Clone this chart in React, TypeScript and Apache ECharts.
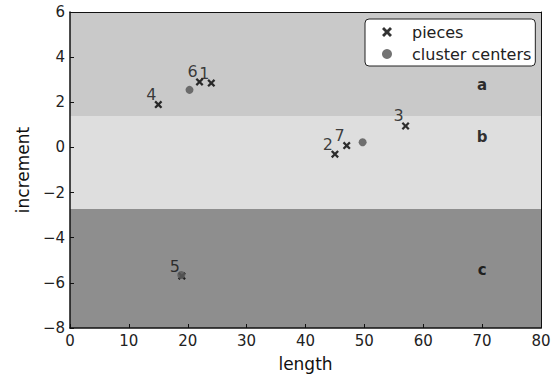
import React, { useEffect, useRef } from "react";
import * as echarts from "echarts";

const pieceNames = ["1", "2", "3", "4", "5", "6", "7"];
const pieceX = [24, 45, 57, 15, 19, 22, 47];
const pieceY = [2.85, -0.3, 0.95, 1.9, -5.7, 2.9, 0.08];
const centerX = [20.3, 49.7, 18.9];
const centerY = [2.55, 0.23, -5.65];
const regionNames = ["a", "b", "c"];
const regionTop = [6, 1.39, -2.73];
const regionBottom = [1.39, -2.73, -8];
const regionLabelX = [70, 70, 70];
const regionLabelY = [2.75, 0.45, -5.45];
const regionColors = ["#c9c9c9", "#dedede", "#8e8e8e"];
const xTicks = { min: 0, max: 80, interval: 10 };
const yTicks = { min: -8, max: 6, interval: 2 };

const XPATH =
  "path://M0,2L2,0L5,3L8,0L10,2L7,5L10,8L8,10L5,7L2,10L0,8L3,5Z";
const FONT = "DejaVu Sans";

export default function App() {
  const ref = useRef<HTMLDivElement>(null);
  useEffect(() => {
    document.body.style.margin = "0";
    const chart = echarts.init(ref.current!, null, { renderer: "svg" });
    const boxAxis = {
      type: "value",
      axisLine: { show: true, onZero: false, lineStyle: { color: "#111", width: 1 } },
      axisTick: { show: false },
      axisLabel: { show: false },
      splitLine: { show: false },
    };
    chart.setOption({
      animation: false,
      textStyle: { fontFamily: FONT },
      grid: {
        left: 70,
        right: 18,
        top: 12,
        bottom: 51,
      },
      xAxis: [
        {
          type: "value",
          min: xTicks.min,
          max: xTicks.max,
          interval: xTicks.interval,
          name: "length",
          nameLocation: "middle",
          nameGap: 27,
          nameTextStyle: { fontSize: 17, color: "#111", fontFamily: FONT },
          axisLine: { show: true, onZero: false, lineStyle: { color: "#111", width: 1.5 } },
          axisTick: { show: true, inside: true, length: 4, lineStyle: { color: "#111" } },
          axisLabel: { fontSize: 15, color: "#222", margin: 5, fontFamily: FONT },
          splitLine: { show: false },
          z: 10,
        },
        { ...boxAxis, position: "top", min: xTicks.min, max: xTicks.max, z: 10 },
      ],
      yAxis: [
        {
          type: "value",
          min: yTicks.min,
          max: yTicks.max,
          interval: yTicks.interval,
          name: "increment",
          nameLocation: "middle",
          nameGap: 37,
          nameRotate: 90,
          nameTextStyle: { fontSize: 17, color: "#111", fontFamily: FONT },
          axisLine: { show: true, onZero: false, lineStyle: { color: "#111", width: 1.5 } },
          axisTick: { show: true, inside: true, length: 4, lineStyle: { color: "#111" } },
          axisLabel: {
            fontSize: 15,
            color: "#222",
            margin: 5,
            fontFamily: FONT,
            formatter: (v: number) => String(v).replace("-", "\u2212"),
          },
          splitLine: { show: false },
          z: 10,
        },
        { ...boxAxis, position: "right", min: yTicks.min, max: yTicks.max, z: 10 },
      ],
      legend: {
        left: 365,
        top: 19,
        orient: "vertical",
        data: ["pieces", "cluster centers"],
        backgroundColor: "#fff",
        borderColor: "#222",
        borderWidth: 1,
        borderRadius: 4,
        padding: [5, 4, 4, 17],
        itemGap: 6,
        itemWidth: 10,
        itemHeight: 10,
        textStyle: { fontSize: 16, color: "#222", fontFamily: FONT, padding: [0, 0, 0, 15] },
      },
      series: [
        {
          name: "regions",
          type: "scatter",
          symbolSize: 0,
          silent: true,
          data: regionNames.map((n, i) => ({ name: n, value: [regionLabelX[i], regionLabelY[i]] })),
          label: {
            show: true,
            position: "inside",
            formatter: "{b}",
            fontSize: 15,
            fontWeight: "bold",
            color: "#000",
            fontFamily: FONT,
          },
          markArea: {
            silent: true,
            data: regionNames.map((n, i) => [
              { yAxis: regionTop[i], itemStyle: { color: regionColors[i], opacity: 1 } },
              { yAxis: regionBottom[i] },
            ]),
          },
          z: 1,
        },
        {
          name: "pieces",
          type: "scatter",
          symbol: XPATH,
          symbolSize: 8,
          itemStyle: { color: "#000" },
          data: pieceNames.map((n, i) => ({ name: n, value: [pieceX[i], pieceY[i]] })),
          label: {
            show: true,
            formatter: "{b}",
            position: "inside",
            offset: [-7, -10],
            fontSize: 16,
            color: "#111",
            fontFamily: FONT,
          },
          z: 3,
        },
        {
          name: "cluster centers",
          type: "scatter",
          symbol: "circle",
          symbolSize: 8,
          itemStyle: { color: "#5a5a5a", opacity: 0.85 },
          data: centerX.map((x, i) => [x, centerY[i]]),
          z: 4,
        },
      ],
    });
    return () => chart.dispose();
  }, []);
  return <div ref={ref} style={{ width: 559, height: 379 }} />;
}
